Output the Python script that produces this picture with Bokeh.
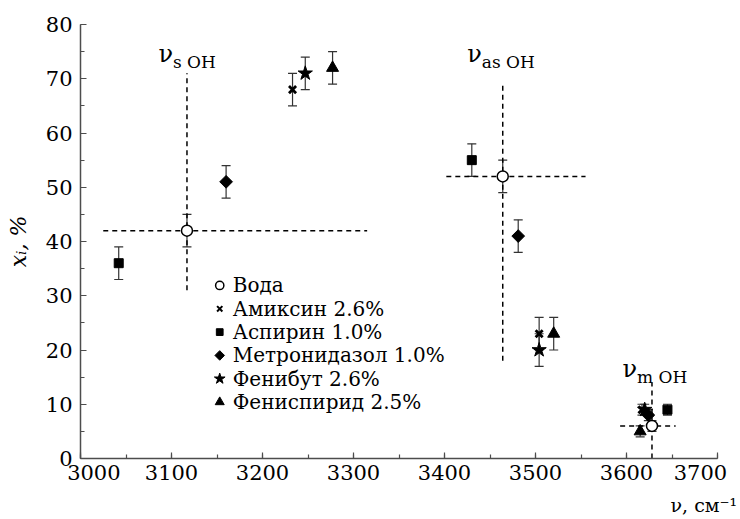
import math

from bokeh.core.properties import value
from bokeh.embed import file_html
from bokeh.models import (ColumnDataSource, FixedTicker, Label, LinearAxis,
                          SingleIntervalTicker, TeeHead, Whisker)
from bokeh.plotting import figure
from bokeh.resources import INLINE

# ---- data: OH stretching band positions (cm^-1) and fractions x_i (%) ----
band_subscripts = ["s OH", "as OH", "m OH"]

water_nu = [3117, 3464, 3628]
water_xi = [42, 52, 6]
water_err = [3, 3, 1]

amixin_nu = [3233, 3504, 3617]
amixin_xi = [68, 23, 9]
amixin_err = [3, 3, 1]

aspirin_nu = [3042, 3430, 3645]
aspirin_xi = [36, 55, 9]
aspirin_err = [3, 3, 1]

metronidazole_nu = [3160, 3481, 3624]
metronidazole_xi = [51, 41, 8]
metronidazole_err = [3, 3, 1]

phenibut_nu = [3247, 3504, 3620]
phenibut_xi = [71, 20, 9]
phenibut_err = [3, 3, 1]

phenispiride_nu = [3277, 3520, 3615]
phenispiride_xi = [72, 23, 5]
phenispiride_err = [3, 3, 1]

# dashed cross-hairs through the water bands
cross_nu_lo = [3025, 3402, 3593]
cross_nu_hi = [3315, 3555, 3654]
cross_xi_lo = [31, 18, 0]
cross_xi_hi = [71, 69, 14]

series_names = ["Вода", "Амиксин 2.6%", "Аспирин 1.0%", "Метронидазол 1.0%",
                "Фенибут 2.6%", "Фениспирид 2.5%"]
series_nu = [water_nu, amixin_nu, aspirin_nu, metronidazole_nu, phenibut_nu, phenispiride_nu]
series_xi = [water_xi, amixin_xi, aspirin_xi, metronidazole_xi, phenibut_xi, phenispiride_xi]
series_err = [water_err, amixin_err, aspirin_err, metronidazole_err, phenibut_err,
              phenispiride_err]

# ---- styling ----
FONT = "DejaVu Serif"

marker_styles = [
    dict(marker="circle", size=11, fill_color="white", line_color="black", line_width=1.5),
    dict(marker="x", size=10, line_color="black", line_width=2.8),
    dict(marker="square", size=9, fill_color="black", line_color="black"),
    dict(marker="square", size=9, angle=math.pi / 4, fill_color="black", line_color="black"),
    dict(marker="star", size=15, fill_color="black", line_color="black"),
    dict(marker="triangle", size=12, fill_color="black", line_color="black"),
]
legend_marker_scale = 0.75
legend_anchor = (3153, 31.9)   # first row marker centre
legend_row_step = 4.3          # rows, in x_i units
legend_text_dx = 13            # px from marker centre to text start

band_label_y = [74.5, 74.5, 16.5]
band_label_dx = [-14, -21, -15]

p = figure(width=740, height=519, x_range=(3000, 3700), y_range=(0, 80),
           output_backend="svg", toolbar_location=None,
           min_border_left=80, min_border_right=23, min_border_top=24, min_border_bottom=61)
p.outline_line_color = None
p.grid.visible = False
p.background_fill_color = "white"
p.border_fill_color = "white"

p.xaxis.ticker = SingleIntervalTicker(interval=100, num_minor_ticks=2)
p.yaxis.ticker = SingleIntervalTicker(interval=10, num_minor_ticks=2)
p.xaxis.major_label_overrides = {3000: "\u2007\u20073000", 3700: "3700\u2007"}
for ax in (p.xaxis, p.yaxis):
    ax.axis_line_color = "#4d4d4d"
    ax.axis_line_width = 1.5
    ax.major_tick_line_color = "#4d4d4d"
    ax.minor_tick_line_color = "#4d4d4d"
    ax.major_tick_line_width = 1.2
    ax.minor_tick_line_width = 1.2
    ax.major_tick_in = 6
    ax.major_tick_out = 0
    ax.minor_tick_in = 4
    ax.minor_tick_out = 0
    ax.major_label_text_font = FONT
    ax.major_label_text_font_size = "21px"
    ax.major_label_text_color = "black"
p.xaxis.major_label_standoff = 2
p.yaxis.major_label_standoff = 8

p.yaxis.axis_label = "xᵢ, %"
p.yaxis.axis_label_text_font = FONT
p.yaxis.axis_label_text_font_style = "italic"
p.yaxis.axis_label_text_font_size = "22px"
p.yaxis.axis_label_text_color = "black"
p.yaxis.axis_label_standoff = 12

# unit label sits under the right end of the x axis
unit_axis = LinearAxis(ticker=FixedTicker(ticks=[3685], minor_ticks=[]),
                       major_label_overrides={3685: "ν, см⁻¹"},
                       axis_line_color=None, major_tick_line_color=None,
                       minor_tick_line_color=None, major_label_standoff=0,
                       major_label_text_font=FONT, major_label_text_font_size="19px",
                       major_label_text_color="black")
p.add_layout(unit_axis, "below")

# dashed cross-hairs
p.segment(x0=cross_nu_lo, x1=cross_nu_hi, y0=water_xi, y1=water_xi,
          line_color="black", line_width=1.5, line_dash="5 4")
p.segment(x0=water_nu, x1=water_nu, y0=cross_xi_lo, y1=cross_xi_hi,
          line_color="black", line_width=1.5, line_dash="5 4")

for i, (name, nu, xi, err) in enumerate(zip(series_names, series_nu, series_xi, series_err)):
    src = ColumnDataSource(dict(nu=nu, xi=xi,
                                lo=[v - e for v, e in zip(xi, err)],
                                hi=[v + e for v, e in zip(xi, err)]))
    w = Whisker(source=src, base="nu", lower="lo", upper="hi", dimension="height",
                line_color="#333333", line_width=1.2,
                upper_head=TeeHead(size=9, line_color="#333333", line_width=1.2),
                lower_head=TeeHead(size=9, line_color="#333333", line_width=1.2))
    p.add_layout(w)
    p.scatter("nu", "xi", source=src, **marker_styles[i])

    # legend row
    ly = legend_anchor[1] - i * legend_row_step
    style = dict(marker_styles[i])
    style["size"] = style["size"] * legend_marker_scale
    if style["marker"] == "x":
        style["line_width"] = 2
    p.scatter(x=[legend_anchor[0]], y=[ly], **style)
    p.text(x=[legend_anchor[0]], y=[ly], text=[name], x_offset=legend_text_dx,
           text_baseline="middle", text_align="left", text_font=value(FONT),
           text_font_size=value("20px"), text_color="black")

# band labels: nu with subscript
for nu, sub, ly, dx in zip(water_nu, band_subscripts, band_label_y, band_label_dx):
    p.add_layout(Label(x=nu, y=ly, x_offset=dx, text="ν", text_align="right",
                       text_baseline="alphabetic", text_font=FONT, text_font_size="24px",
                       text_color="black"))
    p.add_layout(Label(x=nu, y=ly, x_offset=dx, y_offset=-8, text=sub, text_align="left",
                       text_baseline="alphabetic", text_font=FONT, text_font_size="17px",
                       text_color="black"))

open("out.html", "w").write(file_html(p, INLINE))
